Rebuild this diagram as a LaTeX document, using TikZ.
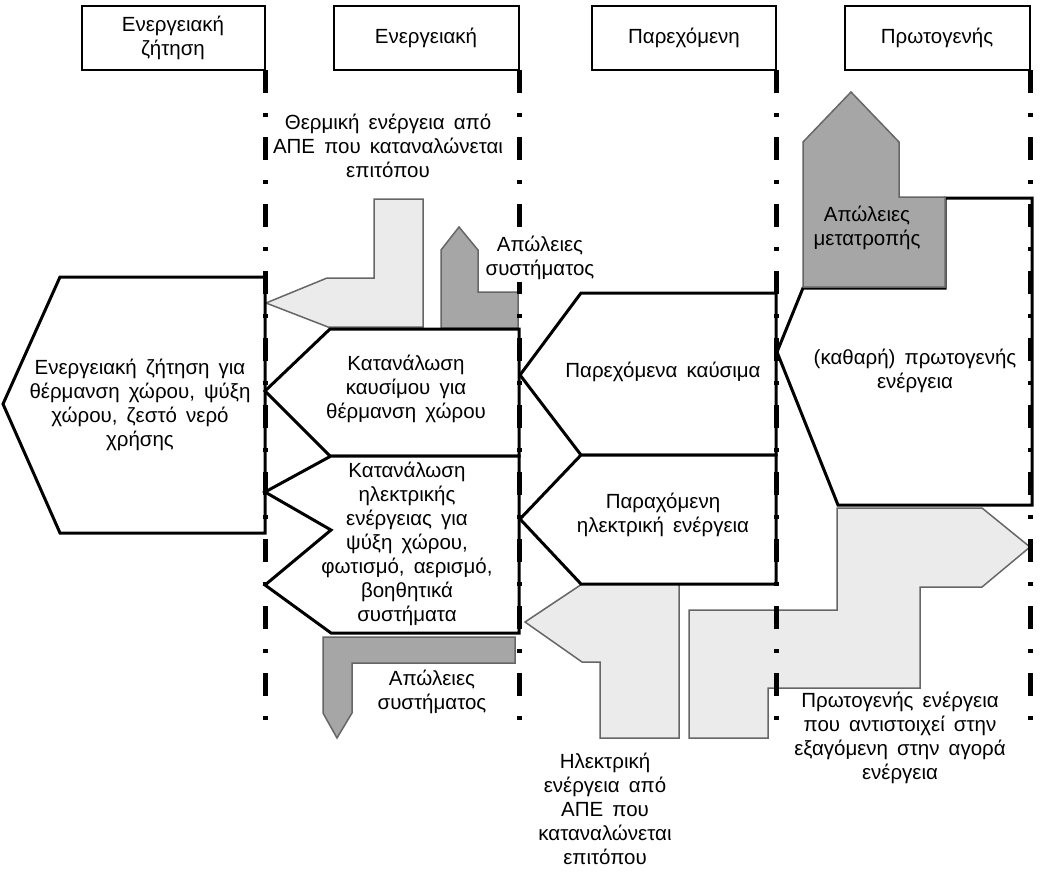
\documentclass[tikz,border=0pt]{standalone}
\usepackage{fontspec}
\setmainfont{Liberation Sans}[WordSpace=1.6]
\begin{document}
\begin{tikzpicture}[x=1pt,y=-1pt,
  txt/.style={font=\fontsize{20.5}{24}\selectfont, align=center, inner sep=0pt},
  blk/.style={draw=black, line width=3pt, fill=white, line join=miter},
  lgt/.style={draw=black!60, line width=1.5pt, fill=black!8},
  drk/.style={draw=black!60, line width=1.5pt, fill=black!35},
  hdr/.style={draw=black, line width=1.8pt, fill=white},
  sep/.style={line width=5pt, dash pattern=on 23pt off 20pt on 4pt off 20pt}]
\useasboundingbox (0,0) rectangle (1060,876);

% header boxes
\draw[hdr] (82,6) rectangle (265,70);
\draw[hdr] (334,6) rectangle (519,70);
\draw[hdr] (592,6) rectangle (776,70);
\draw[hdr] (845,6) rectangle (1030,70);

% grey flows
\draw[lgt] (374,199) -- (423,199) -- (423,327) -- (328,327) -- (266,303) -- (327,278) -- (374,278) -- cycle;
\draw[drk] (459,227) -- (478,250) -- (478,292) -- (518,292) -- (518,328) -- (441,328) -- (441,250) -- cycle;
\draw[drk] (323,637) -- (515,637) -- (515,663) -- (352,663) -- (352,713) -- (337,738) -- (323,713) -- cycle;
\draw[lgt] (582,584) -- (679,584) -- (679,738) -- (600,738) -- (600,662) -- (582,662) -- (525,622) -- cycle;
\draw[lgt] (689,610) -- (837,610) -- (837,508) -- (982,508) -- (1030,547) -- (982,587) -- (920,587) -- (920,688) -- (768,688) -- (768,738) -- (689,738) -- cycle;

% main black flows
\draw[blk] (60,277) -- (265,277) -- (265,533) -- (60,533) -- (3,404) -- cycle;
\draw[blk] (330,329) -- (519,329) -- (519,456) -- (330,456) -- (265,391) -- cycle;
\draw[blk] (331,456) -- (519,456) -- (519,633) -- (331,633) -- (265,585) -- (331,530) -- (265,492) -- cycle;
\draw[blk] (581,293) -- (776,293) -- (776,455) -- (581,455) -- (520,375) -- cycle;
\draw[blk] (581,455) -- (776,455) -- (776,584) -- (581,584) -- (520,519) -- cycle;
\draw[blk] (945,198) -- (1032,198) -- (1032,505) -- (838,505) -- (777,352) -- (803,288) -- (945,288) -- cycle;
\draw[drk] (851,92) -- (899,142) -- (899,197) -- (945,197) -- (945,287) -- (803,287) -- (803,142) -- cycle;

% dash-dot separators
\draw[sep] (265,70) -- (265,720);
\draw[sep] (519,70) -- (519,720);
\draw[sep] (776,70) -- (776,720);
\draw[sep] (1030,70) -- (1030,720);

% texts
\node[txt] (h1) at (173,38) {Ενεργειακή\\ζήτηση};
\node[txt] (h2) at (426,38) {Ενεργειακή};
\node[txt] (h3) at (684,38) {Παρεχόμενη};
\node[txt] (h4) at (937,38) {Πρωτογενής};

\node[txt] (therm) at (388,146) {Θερμική ενέργεια από\\ΑΠΕ που καταναλώνεται\\επιτόπου};
\node[txt, fill=white, inner sep=2pt] (loss1) at (540,258) {Απώλειες\\συστήματος};
\node[txt] (demand) at (140,405) {Ενεργειακή ζήτηση για\\θέρμανση χώρου, ψύξη\\χώρου, ζεστό νερό\\χρήσης};
\node[txt] (fuelc) at (406,389) {Κατανάλωση\\καυσίμου για\\θέρμανση χώρου};
\node[txt] (elc) at (407,544) {Κατανάλωση\\ηλεκτρικής\\ενέργειας για\\ψύξη χώρου,\\φωτισμό, αερισμό,\\βοηθητικά\\συστήματα};
\node[txt] (loss2) at (432,692) {Απώλειες\\συστήματος};
\node[txt] (fuels) at (663,372) {Παρεχόμενα καύσιμα};
\node[txt] (elgen) at (663,515) {Παραχόμενη\\ηλεκτρική ενέργεια};
\node[txt] (prim) at (915,371) {(καθαρή) πρωτογενής\\ενέργεια};
\node[txt] (conv) at (867,228) {Απώλειες\\μετατροπής};
\node[txt] (eres) at (605,809) {Ηλεκτρική\\ενέργεια από\\ΑΠΕ που\\καταναλώνεται\\επιτόπου};
\node[txt] (export) at (900,738) {Πρωτογενής ενέργεια\\που αντιστοιχεί στην\\εξαγόμενη στην αγορά\\ενέργεια};
\end{tikzpicture}
\end{document}
